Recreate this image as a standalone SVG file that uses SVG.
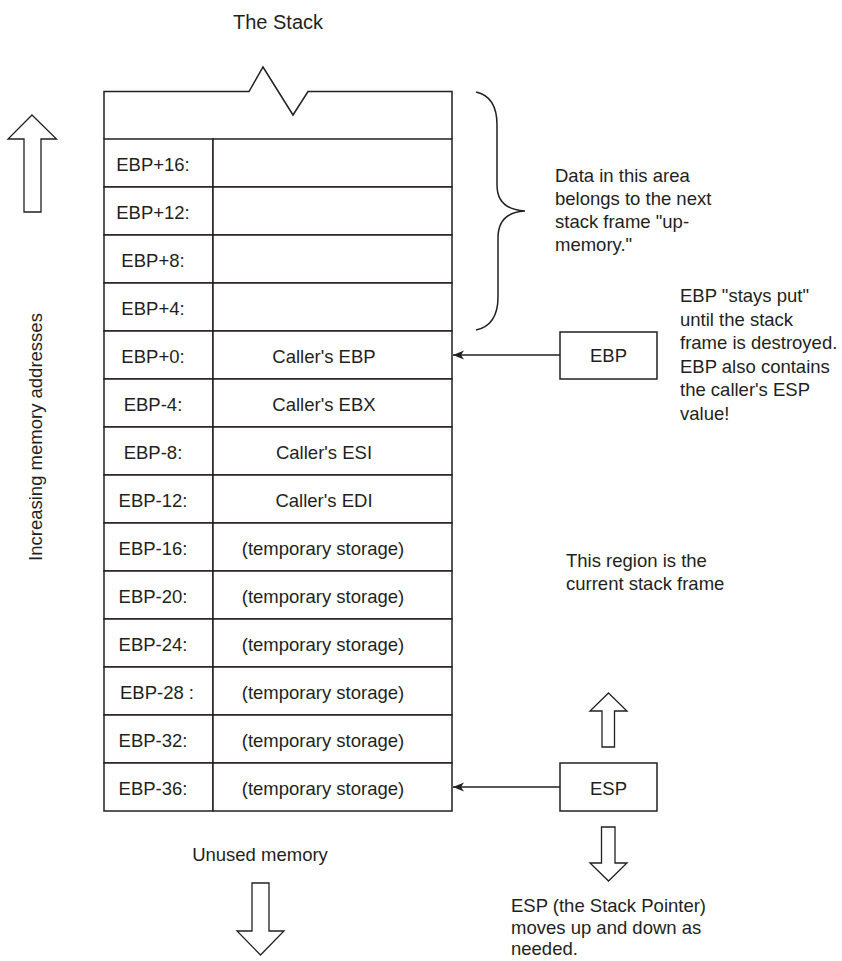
<svg xmlns="http://www.w3.org/2000/svg" width="842" height="961" viewBox="0 0 842 961">
<style>
  .ln{fill:none;stroke:#231f20;stroke-width:1.5}
  .cell{fill:#fff;stroke:#231f20;stroke-width:1.5}
  .hol{fill:#fff;stroke:#231f20;stroke-width:1.3;stroke-linejoin:miter}
  text{font-family:"Liberation Sans",Arial,sans-serif;font-size:18.5px;fill:#231f20}
  .c{text-anchor:middle}
  .conn{fill:none;stroke:#231f20;stroke-width:1.5}
</style>
<defs>
  <marker id="ah" markerWidth="12" markerHeight="10" refX="11" refY="5" orient="auto" markerUnits="userSpaceOnUse">
    <path d="M11,5 L0,0.5 L3,5 L0,9.5 Z" fill="#231f20"/>
  </marker>
</defs>
<rect width="842" height="961" fill="#fff"/>

<g id="title"><text class="c" x="278" y="29" style="font-size:20px">The Stack</text></g>

<g id="stack">
  <path class="ln" d="M104,139 L104,91.5 L249,91.5 L263,67 L293,115 L308,91.5 L452,91.5 L452,139"/>
  <g id="row-ebp16"><rect class="cell" x="104" y="139" width="109" height="48"/><rect class="cell" x="213" y="139" width="239" height="48"/><text class="c" x="153" y="170.5">EBP+16:</text></g>
  <g id="row-ebp12"><rect class="cell" x="104" y="187" width="109" height="48"/><rect class="cell" x="213" y="187" width="239" height="48"/><text class="c" x="153" y="218.5">EBP+12:</text></g>
  <g id="row-ebp8"><rect class="cell" x="104" y="235" width="109" height="48"/><rect class="cell" x="213" y="235" width="239" height="48"/><text class="c" x="153" y="266.5">EBP+8:</text></g>
  <g id="row-ebp4"><rect class="cell" x="104" y="283" width="109" height="48"/><rect class="cell" x="213" y="283" width="239" height="48"/><text class="c" x="153" y="314.5">EBP+4:</text></g>
  <g id="row-ebp0"><rect class="cell" x="104" y="331" width="109" height="48"/><rect class="cell" x="213" y="331" width="239" height="48"/><text class="c" x="153" y="362.5">EBP+0:</text><text class="c" x="324" y="362.5">Caller's EBP</text></g>
  <g id="row-ebpm4"><rect class="cell" x="104" y="379" width="109" height="48"/><rect class="cell" x="213" y="379" width="239" height="48"/><text class="c" x="153" y="410.5">EBP-4:</text><text class="c" x="324" y="410.5">Caller's EBX</text></g>
  <g id="row-ebpm8"><rect class="cell" x="104" y="427" width="109" height="48"/><rect class="cell" x="213" y="427" width="239" height="48"/><text class="c" x="153" y="458.5">EBP-8:</text><text class="c" x="324" y="458.5">Caller's ESI</text></g>
  <g id="row-ebpm12"><rect class="cell" x="104" y="475" width="109" height="48"/><rect class="cell" x="213" y="475" width="239" height="48"/><text class="c" x="153" y="506.5">EBP-12:</text><text class="c" x="324" y="506.5">Caller's EDI</text></g>
  <g id="row-ebpm16"><rect class="cell" x="104" y="523" width="109" height="48"/><rect class="cell" x="213" y="523" width="239" height="48"/><text class="c" x="153" y="554.5">EBP-16:</text><text class="c" x="323" y="554.5">(temporary storage)</text></g>
  <g id="row-ebpm20"><rect class="cell" x="104" y="571" width="109" height="48"/><rect class="cell" x="213" y="571" width="239" height="48"/><text class="c" x="153" y="602.5">EBP-20:</text><text class="c" x="323" y="602.5">(temporary storage)</text></g>
  <g id="row-ebpm24"><rect class="cell" x="104" y="619" width="109" height="48"/><rect class="cell" x="213" y="619" width="239" height="48"/><text class="c" x="153" y="650.5">EBP-24:</text><text class="c" x="323" y="650.5">(temporary storage)</text></g>
  <g id="row-ebpm28"><rect class="cell" x="104" y="667" width="109" height="48"/><rect class="cell" x="213" y="667" width="239" height="48"/><text class="c" x="157" y="698.5">EBP-28 :</text><text class="c" x="323" y="698.5">(temporary storage)</text></g>
  <g id="row-ebpm32"><rect class="cell" x="104" y="715" width="109" height="48"/><rect class="cell" x="213" y="715" width="239" height="48"/><text class="c" x="153" y="746.5">EBP-32:</text><text class="c" x="323" y="746.5">(temporary storage)</text></g>
  <g id="row-ebpm36"><rect class="cell" x="104" y="763" width="109" height="48"/><rect class="cell" x="213" y="763" width="239" height="48"/><text class="c" x="153" y="794.5">EBP-36:</text><text class="c" x="323" y="794.5">(temporary storage)</text></g>
</g>

<g id="ebp-box"><rect class="cell" x="560" y="332" width="97" height="47"/><text class="c" x="608.5" y="362">EBP</text></g>
<g id="esp-box"><rect class="cell" x="560" y="763" width="97" height="48"/><text class="c" x="608.5" y="795">ESP</text></g>

<g id="connectors">
  <line class="conn" x1="560" y1="355" x2="453" y2="355" marker-end="url(#ah)"/>
  <line class="conn" x1="560" y1="787" x2="453" y2="787" marker-end="url(#ah)"/>
</g>

<g id="brace"><path class="ln" d="M476,92 C490,95 497,105 497,125 L497,185 C497,201 506,210 525,211 C506,212 498,222 498,238 L498,297 C498,317 490,327 476,330"/></g>

<g id="note-upmemory">
  <text x="555" y="182">Data in this area</text>
  <text x="555" y="205">belongs to the next</text>
  <text x="555" y="228">stack frame "up-</text>
  <text x="555" y="251">memory."</text>
</g>

<g id="note-ebp">
  <text x="680" y="302">EBP "stays put"</text>
  <text x="680" y="325.5">until the stack</text>
  <text x="680" y="349">frame is destroyed.</text>
  <text x="680" y="372.5">EBP also contains</text>
  <text x="680" y="396">the caller's ESP</text>
  <text x="680" y="419.5">value!</text>
</g>

<g id="note-region">
  <text x="566" y="567">This region is the</text>
  <text x="566" y="590">current stack frame</text>
</g>

<g id="note-esp">
  <text x="511" y="912">ESP (the Stack Pointer)</text>
  <text x="511" y="934">moves up and down as</text>
  <text x="511" y="955">needed.</text>
</g>

<g id="unused"><text class="c" x="260" y="861">Unused memory</text></g>

<g id="increasing">
  <text class="c" transform="translate(42,437) rotate(-90)" x="0" y="0">Increasing memory addresses</text>
</g>

<g id="arrow-up-left"><polygon class="hol" points="32,115 56.5,139 41,139 41,212 24,212 24,139 8,139"/></g>
<g id="arrow-esp-up"><polygon class="hol" points="608.5,693 627,711 614.5,711 614.5,747 602,747 602,711 590,711"/></g>
<g id="arrow-esp-down"><polygon class="hol" points="601.5,827 615,827 615,863 627,863 608.5,881 590,863 601.5,863"/></g>
<g id="arrow-down"><polygon class="hol" points="252,883 269,883 269,931 284,931 260.5,955 237,931 252,931"/></g>
</svg>
